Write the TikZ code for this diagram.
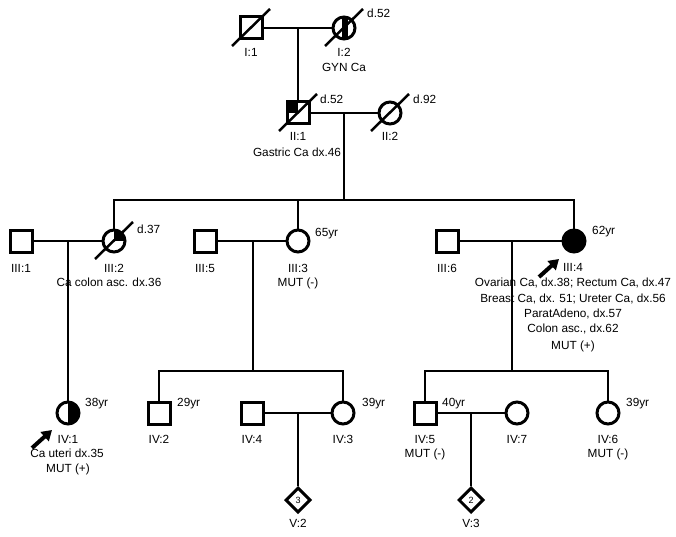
\documentclass[tikz,border=0pt]{standalone}
\usepackage{fontspec}
\setmainfont{Liberation Sans}
\usetikzlibrary{shapes.geometric,arrows.meta}
\begin{document}
\begin{tikzpicture}[x=1pt,y=-1pt,
 sq/.style={rectangle,draw,line width=3pt,minimum size=22pt,inner sep=0pt},
 ci/.style={circle,draw,line width=3pt,minimum size=22pt,inner sep=0pt},
 dia/.style={diamond,draw,line width=3pt,minimum size=25pt,inner sep=0pt,font=\fontsize{9}{10}\selectfont},
 lbl/.style={inner sep=0pt,anchor=base,font=\fontsize{11.8}{13}\selectfont},
 lw/.style={lbl,anchor=base west},
 rel/.style={line width=2.4pt},
 dead/.style={line width=2.5pt},
 pro/.style={line width=4pt,-{Triangle[length=10pt,width=12pt]}}
]
\fill[white] (0,0) rectangle (676,537);
\useasboundingbox (0,0) rectangle (676,537);

% ---------- Generation I
\node[sq] (I1) at (251,28) {};
\node[ci] (I2) at (344,28) {};
\begin{scope}
 \clip (I2.center) circle[radius=11];
 \fill ([shift={(-2,-12)}]I2.center) rectangle ([shift={(4,12)}]I2.center);
\end{scope}
\draw[dead] ([shift={(-19,18)}]I1.center) -- ([shift={(19,-19)}]I1.center);
\draw[dead] ([shift={(-19,18)}]I2.center) -- ([shift={(19,-19)}]I2.center);
\node[lbl] (I1l) at (251,57) {I:1};
\node[lbl] (I2l) at (344,57) {I:2};
\node[lbl] (I2t) at (344,72) {GYN Ca};
\node[lw] (I2d) at (367,18) {d.52};

% ---------- Generation II
\node[sq] (II1) at (298,113) {};
\fill (II1.north west) rectangle (II1.center);
\node[ci] (II2) at (390,113) {};
\draw[dead] ([shift={(-19,18)}]II1.center) -- ([shift={(19,-19)}]II1.center);
\draw[dead] ([shift={(-19,18)}]II2.center) -- ([shift={(19,-19)}]II2.center);
\node[lw] (II1d) at (320,104) {d.52};
\node[lbl] (II1l) at (298,141) {II:1};
\node[lbl] (II1t) at (297,157) {Gastric Ca dx.46};
\node[lw] (II2d) at (413,104) {d.92};
\node[lbl] (II2l) at (390,141) {II:2};

% ---------- Generation III
\node[sq] (III1) at (21,241) {};
\node[ci] (III2) at (114,241) {};
\begin{scope}
 \clip (III2.center) circle[radius=11];
 \fill (III2.center) rectangle ([shift={(12,-12)}]III2.center);
\end{scope}
\draw[dead] ([shift={(-19,18)}]III2.center) -- ([shift={(19,-19)}]III2.center);
\node[sq] (III5) at (205,241) {};
\node[ci] (III3) at (298,241) {};
\node[sq] (III6) at (447,241) {};
\node[ci,fill] (III4) at (574,241) {};

\node[lbl] (III1l) at (21,272) {III:1};
\node[lbl] (III2l) at (114,272) {III:2};
\node[lw] (III2d) at (137,233) {d.37};
\node[lbl] (III2t) at (109,286) {Ca colon asc. dx.36};
\node[lbl] (III5l) at (205,272) {III:5};
\node[lbl] (III3l) at (298,272) {III:3};
\node[lw] (III3a) at (315,236) {65yr};
\node[lbl] (III3t) at (298,286) {MUT (-)};
\node[lbl] (III6l) at (447,272) {III:6};
\node[lbl] (III4l) at (573,271) {III:4};
\node[lw] (III4a) at (592,234) {62yr};
\node[lbl] (III4t1) at (573,286) {Ovarian Ca, dx.38; Rectum Ca, dx.47};
\node[lbl] (III4t2) at (573,302) {Breast Ca, dx. 51; Ureter Ca, dx.56};
\node[lbl] (III4t3) at (573,317) {ParatAdeno, dx.57};
\node[lbl] (III4t4) at (573,332) {Colon asc., dx.62};
\node[lbl] (III4t5) at (573,349) {MUT (+)};

% ---------- Generation IV
\node[ci] (IV1) at (68,413) {};
\begin{scope}
 \clip (IV1.center) circle[radius=11];
 \fill ([shift={(0,-12)}]IV1.center) rectangle ([shift={(12,12)}]IV1.center);
\end{scope}
\node[sq] (IV2) at (159,413) {};
\node[sq] (IV4) at (252,413) {};
\node[ci] (IV3) at (343,413) {};
\node[sq] (IV5) at (425,413) {};
\node[ci] (IV7) at (517,413) {};
\node[ci] (IV6) at (608,413) {};

\node[lw] (IV1a) at (85,406) {38yr};
\node[lbl] (IV1l) at (68,443) {IV:1};
\node[lbl] (IV1t) at (67,457) {Ca uteri dx.35};
\node[lbl] (IV1m) at (68,472) {MUT (+)};
\node[lw] (IV2a) at (177,406) {29yr};
\node[lbl] (IV2l) at (159,443) {IV:2};
\node[lbl] (IV4l) at (252,443) {IV:4};
\node[lw] (IV3a) at (362,406) {39yr};
\node[lbl] (IV3l) at (343,443) {IV:3};
\node[lw] (IV5a) at (442,406) {40yr};
\node[lbl] (IV5l) at (425,443) {IV:5};
\node[lbl] (IV5m) at (425,457) {MUT (-)};
\node[lbl] (IV7l) at (517,443) {IV:7};
\node[lw] (IV6a) at (626,406) {39yr};
\node[lbl] (IV6l) at (608,443) {IV:6};
\node[lbl] (IV6m) at (608,457) {MUT (-)};

% ---------- Generation V
\node[dia] (V2) at (298,500) {3};
\node[dia] (V3) at (471,500) {2};
\node[lbl] (V2l) at (298,527) {V:2};
\node[lbl] (V3l) at (471,527) {V:3};

% ---------- connectors
\coordinate (m1) at (298,28);
\draw[rel] (I1) -- (I2);
\draw[rel] (m1) -- (II1);

\coordinate (m2) at (344,113);
\coordinate (s3) at (344,200);
\draw[rel] (II1) -- (II2);
\draw[rel] (m2) -- (s3);
\draw[rel] (III2) -- (III2 |- s3) -- (III4 |- s3) -- (III4);
\draw[rel] (III3) -- (III3 |- s3);

\coordinate (m3) at (68,241);
\draw[rel] (III1) -- (III2);
\draw[rel] (m3) -- (IV1);

\coordinate (m4) at (253,241);
\coordinate (s4) at (253,371);
\draw[rel] (III5) -- (III3);
\draw[rel] (m4) -- (s4);
\draw[rel] (IV2) -- (IV2 |- s4) -- (IV3 |- s4) -- (IV3);

\coordinate (m5) at (512,241);
\coordinate (s5) at (512,371);
\draw[rel] (III6) -- (III4);
\draw[rel] (m5) -- (s5);
\draw[rel] (IV5) -- (IV5 |- s5) -- (IV6 |- s5) -- (IV6);

\coordinate (m6) at (298,413);
\draw[rel] (IV4) -- (IV3);
\draw[rel] (m6) -- (V2);
\coordinate (m7) at (471,413);
\draw[rel] (IV5) -- (IV7);
\draw[rel] (m7) -- (V3);

% ---------- proband arrows
\coordinate (p1s) at (539,277);
\coordinate (p1e) at (559,259);
\draw[pro] (p1s) -- (p1e);
\coordinate (p2s) at (32,448);
\coordinate (p2e) at (52,430);
\draw[pro] (p2s) -- (p2e);
\end{tikzpicture}
\end{document}
